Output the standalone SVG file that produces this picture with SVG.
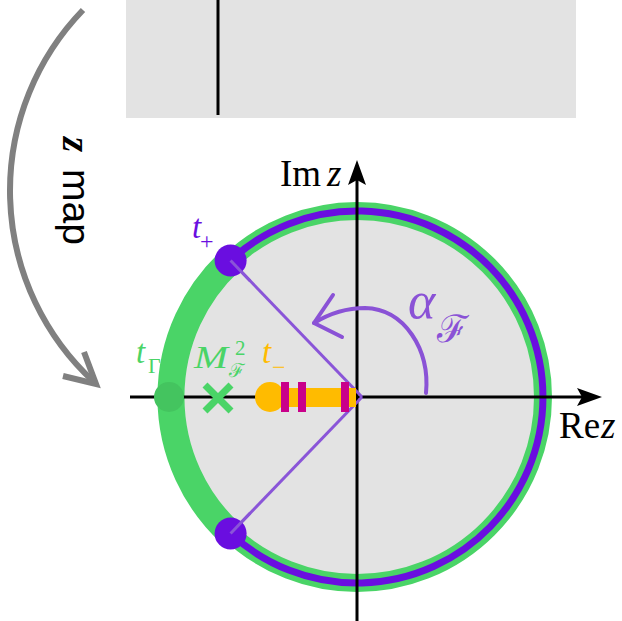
<svg xmlns="http://www.w3.org/2000/svg" width="622" height="621" viewBox="0 0 622 621">
<style>
.serif{font-family:"Liberation Serif","Times New Roman",serif}
.it{font-style:italic}
.ax{stroke:#000;stroke-width:3;fill:none}
.hand{stroke:#8a52d6;stroke-width:4;fill:none;stroke-linecap:round;stroke-linejoin:round}
</style>
<rect width="622" height="621" fill="#fff"/>
<g id="strip">
<rect x="126" y="0" width="450" height="118" fill="#e3e3e3"/>
<line x1="218" y1="0" x2="218" y2="115" stroke="#000" stroke-width="3"/>
</g>
<g id="zmap">
<path d="M83,10 A260,260 0 0 0 94,382" stroke="#808080" stroke-width="6" fill="none"/>
<path d="M84,352 L96,384 L63,376" stroke="#808080" stroke-width="6" fill="none" stroke-linejoin="miter"/>
<text transform="translate(63,137) rotate(90)" font-size="39" fill="#000"><tspan class="serif it" font-weight="bold" x="0" y="0">z</tspan><tspan font-family="Liberation Sans, Arial, sans-serif" x="32" y="0">map</tspan></text>
</g>
<g id="disk">
<circle cx="357" cy="397" r="186" fill="#e3e3e3"/>
<circle cx="357" cy="397" r="186" fill="none" stroke="#4ad467" stroke-width="18"/>
<path d="M230.6,260.5 A186,186 0 0 0 230.6,533.5" fill="none" stroke="#4ad467" stroke-width="27"/>
<path d="M230.6,260.5 A186,186 0 1 1 230.6,533.5" fill="none" stroke="#6a0ee0" stroke-width="7"/>
</g>
<g id="axes">
<line class="ax" x1="357" y1="176" x2="357" y2="621"/>
<polygon points="357,160 366,185 357,180 348,185" fill="#000"/>
<line class="ax" x1="130" y1="397" x2="588" y2="397"/>
<polygon points="602,397 577,406 582,397 577,388" fill="#000"/>
<text class="serif" font-size="37"><tspan x="280" y="186">Im</tspan><tspan class="it" x="327" y="186">z</tspan></text>
<text class="serif" font-size="37"><tspan x="559" y="438">Re</tspan><tspan class="it" x="601" y="438">z</tspan></text>
</g>
<g id="connectors">
<line x1="230.6" y1="260.5" x2="362" y2="397" stroke="#8a55d8" stroke-width="3"/>
<line x1="230.6" y1="533.5" x2="362" y2="397" stroke="#8a55d8" stroke-width="3"/>
</g>
<g id="t-plus">
<circle cx="230.6" cy="260.5" r="16" fill="#6a0ee0"/>
<line x1="230.6" y1="260.5" x2="250" y2="280.7" stroke="#8a55d8" stroke-width="3"/>
<text class="serif" fill="#6a0ee0" font-size="33"><tspan class="it" x="192" y="238">t</tspan><tspan x="200" y="249" font-size="24">+</tspan></text>
</g>
<g id="t-minus-dot">
<circle cx="230.6" cy="533.5" r="16" fill="#6a0ee0"/>
<line x1="230.6" y1="533.5" x2="250" y2="513.3" stroke="#8a55d8" stroke-width="3"/>
</g>
<g id="t-gamma">
<circle cx="169" cy="397" r="15" fill="#44c45f"/>
<text class="serif" fill="#4ad467" font-size="33"><tspan class="it" x="136" y="363">t</tspan><tspan x="148" y="373" font-size="22">Γ</tspan></text>
</g>
<g id="mass">
<path d="M205,385 L231,411 M231,385 L205,411" stroke="#4ad467" stroke-width="7"/>
<text class="serif" fill="#4ad467" font-size="31"><tspan class="it" x="194" y="368" textLength="34" lengthAdjust="spacingAndGlyphs">M</tspan><tspan x="235" y="355" font-size="21">2</tspan><tspan x="229" y="377" font-size="19" font-family="DejaVu Serif, serif">ℱ</tspan></text>
</g>
<g id="cut">
<circle cx="270" cy="397" r="15" fill="#ffbb00"/>
<rect x="270" y="388" width="86" height="19" fill="#ffbb00"/>
<rect x="281" y="382" width="8" height="30" fill="#c9008a"/>
<rect x="298" y="382" width="8" height="30" fill="#c9008a"/>
<rect x="341" y="382" width="8" height="30" fill="#c9008a"/>
<text class="serif" fill="#ffbb00" font-size="33"><tspan class="it" x="262" y="363">t</tspan><tspan x="272" y="375" font-size="24">−</tspan></text>
</g>
<g id="angle">
<path class="hand" d="M426,393 C430,350 405,309 365,308 C343,308 327,315 314,323"/>
<path class="hand" d="M333,295 L314,323 L342,337"/>
<text fill="#8a52d6" font-family="Liberation Serif, serif" font-style="italic"><tspan x="408" y="318" font-size="52">α</tspan><tspan x="437" y="342" font-size="38" font-family="DejaVu Serif, serif" font-style="normal">ℱ</tspan></text>
</g>
</svg>
